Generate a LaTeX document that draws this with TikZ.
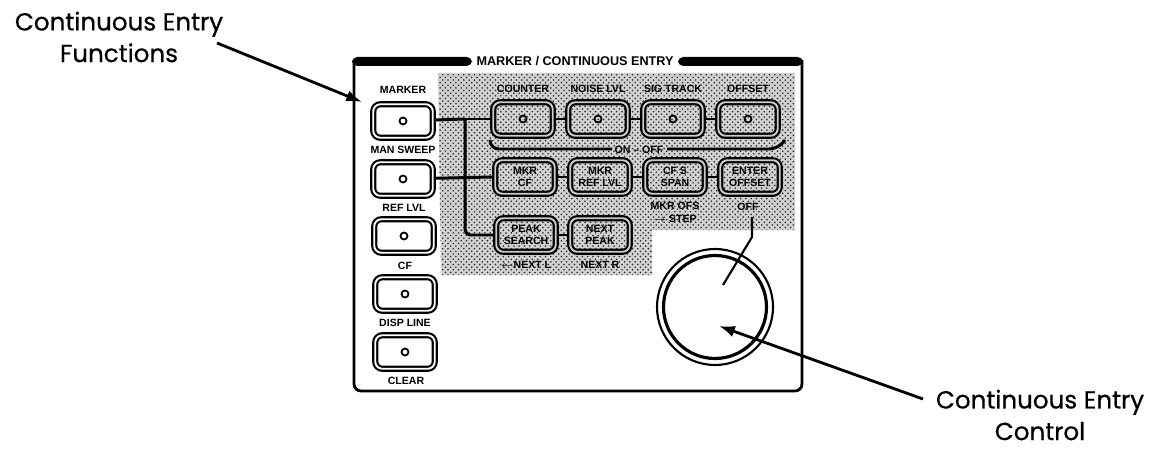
\documentclass[tikz,border=0pt]{standalone}
\usepackage{fontspec}
\setmainfont{Liberation Sans}
\newfontfamily\calloutfont[FakeBold=0.5]{Poppins}
\usetikzlibrary{patterns,arrows.meta}

\tikzset{
    panelbutton/.style={draw, line width=1.2pt, rounded corners=4pt, minimum width=1.19cm, minimum height=0.67cm, inner sep=0pt, double=black!20, double distance=1.1pt, font=\fontsize{6}{6.6}\selectfont\bfseries, align=center},
    paneltext/.style={inner sep=0pt, font=\fontsize{6}{7.4}\selectfont\bfseries, align=center},
    callout/.style={inner sep=0pt, font=\fontsize{14}{18}\selectfont\calloutfont, align=center},
    lamp/.style={draw, circle, line width=1pt, minimum size=4pt, inner sep=0pt},
    bus/.style={line width=1.7pt},
    tie/.style={line width=1pt},
    pointer/.style={line width=1.6pt, -{Latex[length=9pt,width=6.5pt]}}
}

\begin{document}
\begin{tikzpicture}[x=0.02cm, y=-0.02cm]
    \useasboundingbox (0,0) rectangle (1155,449);

    % Draw the panel outline
    \draw[line width=1.6pt, rounded corners=4pt] (354,60) -- (354,391) -- (802,391) -- (802,60);
    \fill[rounded corners=3pt] (352,66) -- (352,57) -- (472,57) -- (472,66) -- cycle;
    \fill[rounded corners=3pt] (678,66) -- (678,57) -- (803,57) -- (803,66) -- cycle;
    \node[paneltext, font=\fontsize{7.2}{8}\selectfont\bfseries] (title) at (575,61) {MARKER / CONTINUOUS ENTRY};

    % Draw the shaded area
    \fill[black!18] (438,73) -- (795,73) -- (795,230) -- (652,230) -- (652,275) -- (441,275) -- cycle;
    \fill[pattern=crosshatch dots, pattern color=black!85] (438,73) -- (795,73) -- (795,230) -- (652,230) -- (652,275) -- (441,275) -- cycle;

    % Draw the left column of buttons
    \node[panelbutton, double=white, fill=white] (marker) at (403,121) {};
    \node[panelbutton, double=white, fill=white] (mansweep) at (403,179) {};
    \node[panelbutton, double=white, fill=white] (reflvl) at (404,236) {};
    \node[panelbutton, double=white, fill=white] (cf) at (405,294) {};
    \node[panelbutton, double=white, fill=white] (clear) at (405,352) {};
    \foreach \btn in {marker,mansweep,reflvl,cf,clear}
        \node[lamp] at (\btn) {};

    \node[paneltext] (markerlabel) at (403,90) {MARKER};
    \node[paneltext] (mansweeplabel) at (403,150) {MAN SWEEP};
    \node[paneltext] (reflvllabel) at (404,208) {REF LVL};
    \node[paneltext] (cflabel) at (405,266) {CF};
    \node[paneltext] (displinelabel) at (405,323) {DISP LINE};
    \node[paneltext] (clearlabel) at (406,381) {CLEAR};

    % Draw the connecting lines
    \coordinate (branch) at (465,119);
    \draw[bus] (marker) -- (branch);
    \draw[bus] (branch) -- (490,119);
    \draw[bus] (mansweep) -- (492,177);
    \draw[bus, rounded corners=3pt] (branch) |- (493,235);
    \draw[tie] (556,119) -- (565,119);
    \draw[tie] (631,119) -- (640,119);
    \draw[tie] (706,119) -- (715,119);
    \draw[tie] (558,177) -- (567,177);
    \draw[tie] (633,177) -- (642,177);
    \draw[tie] (708,177) -- (717,177);
    \draw[tie] (559,235) -- (567,235);

    % Draw the top row
    \node[panelbutton] (counter) at (523,119) {};
    \node[panelbutton] (noiselvl) at (598,119) {};
    \node[panelbutton] (sigtrack) at (673,119) {};
    \node[panelbutton] (offset) at (748,119) {};
    \foreach \btn in {counter,noiselvl,sigtrack,offset}
        \node[lamp] at (\btn) {};

    \node[paneltext] (counterlabel) at (523,89) {COUNTER};
    \node[paneltext] (noiselabel) at (598,89) {NOISE LVL};
    \node[paneltext] (siglabel) at (673,89) {SIG TRACK};
    \node[paneltext] (offsetlabel) at (748,89) {OFFSET};

    % Draw the second and third rows
    \node[panelbutton] (mkrcf) at (525,177) {MKR\\CF};
    \node[panelbutton] (mkrref) at (600,177) {MKR\\REF LVL};
    \node[panelbutton] (cfspan) at (675,177) {CF S\\SPAN};
    \node[panelbutton] (enteroffset) at (750,177) {ENTER\\OFFSET};
    \node[panelbutton] (peaksearch) at (526,235) {PEAK\\SEARCH};
    \node[panelbutton] (nextpeak) at (600,235) {NEXT\\PEAK};

    \node[paneltext] (stepnote) at (675,212) {MKR OFS\\$\rightarrow$ STEP};
    \node[paneltext] (offnote) at (748,207) {OFF};
    \node[paneltext] (nextl) at (526,265) {$\leftarrow$NEXT L};
    \node[paneltext] (nextr) at (600,265) {NEXT R};
    \node[paneltext] (onoff) at (639,150) {ON -- OFF};

    % Draw the ON-OFF bracket
    \draw[bus, rounded corners=5pt] (490,140) -- (490,149) -- (612,149);
    \draw[bus, rounded corners=5pt] (667,149) -- (778,149) -- (785,140);

    % Draw the dial
    \node[draw, circle, line width=1.2pt, minimum size=2.32cm, inner sep=0pt] (dial) at (715,307) {};
    \node[draw, circle, line width=1.8pt, minimum size=2.06cm, inner sep=0pt] (dialinner) at (715,307) {};

    % Draw the leader from OFF to the dial
    \coordinate (offend) at (752,217);
    \coordinate (offbend) at (752,237);
    \coordinate (dialend) at (723,285);
    \draw[line width=1.2pt] (offend) -- (offbend) -- (dialend);

    % Draw the callouts
    \node[callout] (functions) at (119,37) {Continuous Entry\\Functions};
    \node[callout] (control) at (1040,415) {Continuous Entry\\Control};
    \coordinate (functionstip) at (362,102);
    \coordinate (functionstail) at (217,43);
    \coordinate (controltip) at (719,326);
    \coordinate (controltail) at (923,399);
    \draw[pointer] (functionstail) -- (functionstip);
    \draw[pointer] (controltail) -- (controltip);
\end{tikzpicture}
\end{document}
